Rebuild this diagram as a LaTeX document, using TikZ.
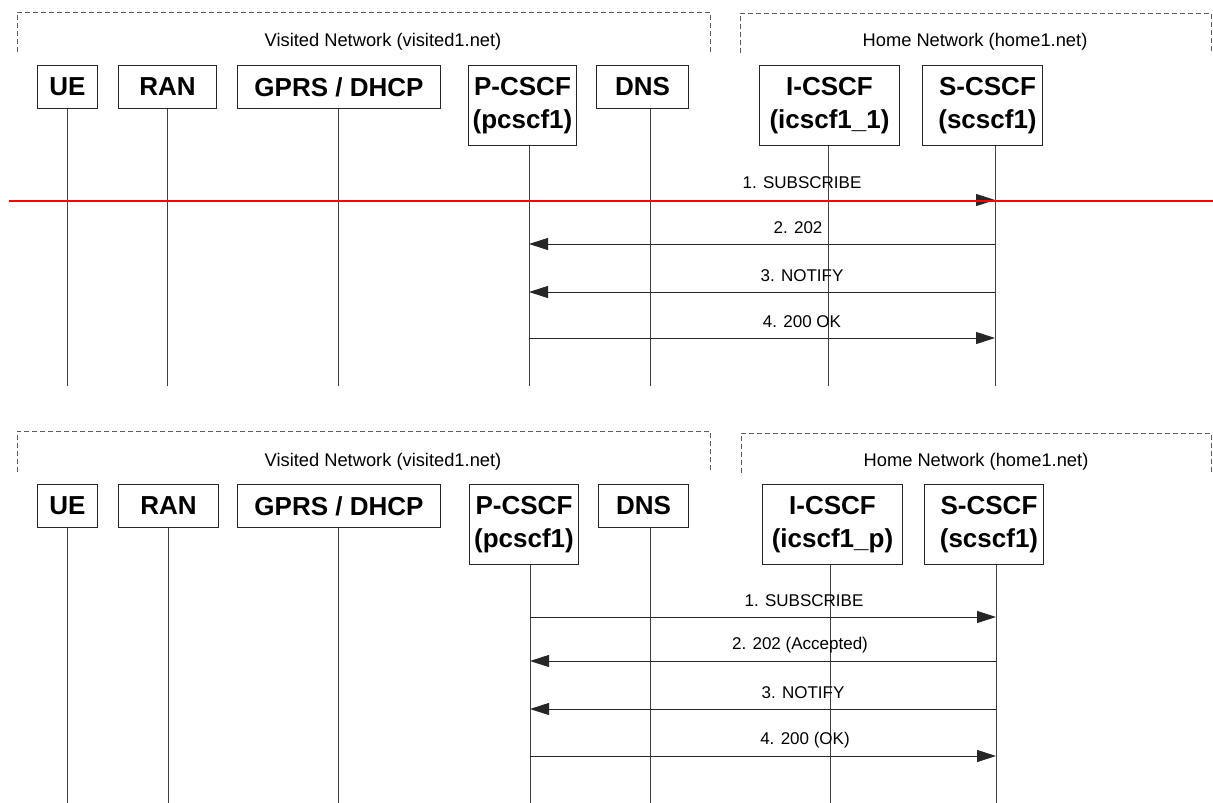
\documentclass[tikz,border=0pt]{standalone}
\usepackage{fontspec}
\setmainfont{Liberation Sans}
\usetikzlibrary{arrows.meta}
\begin{document}
\begin{tikzpicture}[x=1pt,y=-1pt,
  box/.style={draw=black!85, line width=1pt, fill=white, font=\fontsize{26}{33}\selectfont\bfseries, align=center, inner sep=0pt, anchor=north west},
  life/.style={draw=black!75, line width=1pt},
  msg/.style={draw=black!85, line width=1pt, -{Triangle[length=19pt,width=12pt]}},
  lbl/.style={font=\fontsize{17}{19}\selectfont, inner sep=0pt},
  netlbl/.style={font=\fontsize{18.3}{20}\selectfont, inner sep=0pt},
  netframe/.style={draw=black!65, line width=0.9pt, dash pattern=on 5pt off 3pt},
  redline/.style={draw=red, line width=2pt}]
\useasboundingbox[fill=white] (0,0) rectangle (1213,803);

% ---------------- top panel ----------------
\draw[netframe] (17,52) -- (17,12) -- (710,12) -- (710,52);
\draw[netframe] (740,53) -- (740,13) -- (1211,13) -- (1211,53);
\node[netlbl] (vis1) at (383,42) {Visited Network (visited1.net)};
\node[netlbl] (home1) at (975,42) {Home Network (home1.net)};

\node[box, minimum width=60pt, minimum height=43pt] (ue1) at (37,65) {UE};
\node[box, minimum width=98pt, minimum height=43pt] (ran1) at (118,65) {RAN};
\node[box, minimum width=203pt, minimum height=43pt] (gp1) at (237,65) {GPRS / DHCP};
\node[box, minimum width=108pt, minimum height=80pt] (pc1) at (468,65) {P-CSCF\\(pcscf1)};
\node[box, minimum width=92pt, minimum height=43pt] (dns1) at (596,65) {DNS};
\node[box, minimum width=140pt, minimum height=80pt] (ic1) at (759,65) {I-CSCF\\(icscf1\_1)};
\node[box, minimum width=120pt, minimum height=80pt] (sc1) at (922,65) {\hspace*{10pt}S-CSCF\\\hspace*{10pt}(scscf1)};

\coordinate (ue1L) at (67,386);
\coordinate (ran1L) at (167,386);
\coordinate (gp1L) at (338,386);
\coordinate (pc1L) at (529,386);
\coordinate (dns1L) at (650,386);
\coordinate (ic1L) at (828,386);
\coordinate (sc1L) at (995,386);
\draw[life] (ue1.south -| ue1L) -- (ue1L);
\draw[life] (ran1.south -| ran1L) -- (ran1L);
\draw[life] (gp1.south -| gp1L) -- (gp1L);
\draw[life] (pc1.south -| pc1L) -- (pc1L);
\draw[life] (dns1.south -| dns1L) -- (dns1L);
\draw[life] (ic1.south -| ic1L) -- (ic1L);
\draw[life] (sc1.south -| sc1L) -- (sc1L);

\coordinate (a1) at (0,200);
\coordinate (a2) at (0,244);
\coordinate (a3) at (0,292);
\coordinate (a4) at (0,338);
\draw[msg] (pc1L |- a1) -- (sc1L |- a1);
\draw[msg] (sc1L |- a2) -- (pc1L |- a2);
\draw[msg] (sc1L |- a3) -- (pc1L |- a3);
\draw[msg] (pc1L |- a4) -- (sc1L |- a4);
\node[lbl] (t1) at (802,183) {1. SUBSCRIBE};
\node[lbl] (t2) at (798,228) {2. 202};
\node[lbl] (t3) at (802,276) {3. NOTIFY};
\node[lbl] (t4) at (802,322) {4. 200 OK};

\coordinate (r0) at (9,201);
\coordinate (r1) at (1213,201);
\draw[redline] (r0) -- (r1);

% ---------------- bottom panel ----------------
\draw[netframe] (17,472) -- (17,431) -- (710,431) -- (710,472);
\draw[netframe] (741,473) -- (741,433) -- (1211,433) -- (1211,473);
\node[netlbl] (vis2) at (383,462) {Visited Network (visited1.net)};
\node[netlbl] (home2) at (976,462) {Home Network (home1.net)};

\node[box, minimum width=60pt, minimum height=43pt] (ue2) at (37,484) {UE};
\node[box, minimum width=100pt, minimum height=43pt] (ran2) at (118,484) {RAN};
\node[box, minimum width=203pt, minimum height=43pt] (gp2) at (237,484) {GPRS / DHCP};
\node[box, minimum width=109pt, minimum height=80pt] (pc2) at (469,484) {P-CSCF\\(pcscf1)};
\node[box, minimum width=90pt, minimum height=43pt] (dns2) at (598,484) {DNS};
\node[box, minimum width=140pt, minimum height=80pt] (ic2) at (762,484) {I-CSCF\\(icscf1\_p)};
\node[box, minimum width=119pt, minimum height=80pt] (sc2) at (924,484) {\hspace*{10pt}S-CSCF\\\hspace*{10pt}(scscf1)};

\coordinate (ue2L) at (67,803);
\coordinate (ran2L) at (168,803);
\coordinate (gp2L) at (338,803);
\coordinate (pc2L) at (530,803);
\coordinate (dns2L) at (650,803);
\coordinate (ic2L) at (830,803);
\coordinate (sc2L) at (996,803);
\draw[life] (ue2.south -| ue2L) -- (ue2L);
\draw[life] (ran2.south -| ran2L) -- (ran2L);
\draw[life] (gp2.south -| gp2L) -- (gp2L);
\draw[life] (pc2.south -| pc2L) -- (pc2L);
\draw[life] (dns2.south -| dns2L) -- (dns2L);
\draw[life] (ic2.south -| ic2L) -- (ic2L);
\draw[life] (sc2.south -| sc2L) -- (sc2L);

\coordinate (b1) at (0,617);
\coordinate (b2) at (0,661);
\coordinate (b3) at (0,709);
\coordinate (b4) at (0,756);
\draw[msg] (pc2L |- b1) -- (sc2L |- b1);
\draw[msg] (sc2L |- b2) -- (pc2L |- b2);
\draw[msg] (sc2L |- b3) -- (pc2L |- b3);
\draw[msg] (pc2L |- b4) -- (sc2L |- b4);
\node[lbl] (u1) at (804,601) {1. SUBSCRIBE};
\node[lbl] (u2) at (800,645) {2. 202 (Accepted)};
\node[lbl] (u3) at (803,693) {3. NOTIFY};
\node[lbl] (u4) at (805,740) {4. 200 (OK)};
\end{tikzpicture}
\end{document}
